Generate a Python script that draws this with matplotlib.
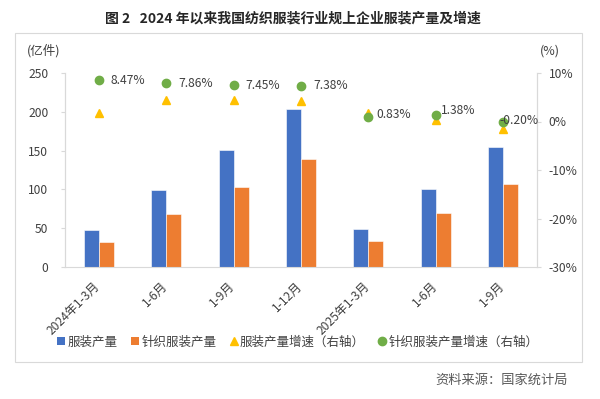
import matplotlib
matplotlib.use('Agg')
import matplotlib.pyplot as plt
import matplotlib.transforms as mtransforms
from matplotlib.patches import Rectangle
from matplotlib.lines import Line2D
from matplotlib.patches import Patch
import numpy as np

plt.rcParams['font.family'] = ['Noto Sans CJK SC', 'DejaVu Sans']
plt.rcParams['axes.unicode_minus'] = False

# data
categories = ['2024年1-3月', '1-6月', '1-9月', '1-12月', '2025年1-3月', '1-6月', '1-9月']
garment_output = [47.7, 98.8, 150.4, 204.2, 48.6, 100.5, 154.2]      # 亿件
knit_output = [32.6, 67.9, 103.0, 138.8, 33.5, 69.6, 106.5]         # 亿件
garment_growth = [1.8, 4.4, 4.4, 4.2, 1.8, 0.3, -1.5]               # %
knit_growth = [8.47, 7.86, 7.45, 7.38, 0.83, 1.38, -0.20]           # %
knit_labels = ['8.47%', '7.86%', '7.45%', '7.38%', '0.83%', '1.38%', '-0.20%']

BLUE = '#4472C4'
ORANGE = '#ED7D31'
YELLOW = '#FFC000'
GREEN = '#70AD47'
TXT = '#404040'
SPINE = '#D9D9D9'

fig = plt.figure(figsize=(6, 3.99), dpi=100)
ax = fig.add_axes([65 / 600, 1 - 267 / 399, 472 / 600, 194 / 399])
ax2 = ax.twinx()

x = np.arange(len(categories))
w = 0.222
ax.bar(x - w / 2, garment_output, w, color=BLUE, edgecolor='white', linewidth=0.4, label='服装产量')
ax.bar(x + w / 2, knit_output, w, color=ORANGE, edgecolor='white', linewidth=0.4, label='针织服装产量')

ax2.plot(x, garment_growth, linestyle='none', marker='^', ms=6.3, color=YELLOW, label='服装产量增速（右轴）')
ax2.plot(x, knit_growth, linestyle='none', marker='o', ms=6, color=GREEN, label='针织服装产量增速（右轴）')

# data labels for knit growth (pixel offsets)
label_offsets = [(12, 0), (12, 0), (12, 0), (12, 0), (8, 3), (5, 4), (-4, 2)]
for xi, yi, s, off in zip(x, knit_growth, knit_labels, label_offsets):
    ax2.annotate(s, (xi, yi), xytext=off, textcoords='offset pixels',
                 ha='left', va='center', fontsize=8.7, color=TXT)

ax.set_xlim(-0.5, len(categories) - 0.5)
ax.set_ylim(0, 250)
ax.set_yticks([0, 50, 100, 150, 200, 250])
ax2.set_ylim(-30, 10)
ax2.set_yticks([-30, -20, -10, 0, 10])
ax2.set_yticklabels(['-30%', '-20%', '-10%', '0%', '10%'])

for a in (ax, ax2):
    for sp in a.spines.values():
        sp.set_color(SPINE)
        sp.set_linewidth(0.8)
    a.spines['top'].set_visible(False)
ax2.spines['bottom'].set_visible(False)

ax.tick_params(axis='y', length=3, color=SPINE, pad=9, labelsize=8.7, labelcolor=TXT)
ax2.tick_params(axis='y', length=3, color=SPINE, pad=5.5, labelsize=8.7, labelcolor=TXT)
ax.tick_params(axis='x', length=0, pad=9, labelsize=8.7, labelcolor=TXT)

ax.set_xticks(x)
ax.set_xticklabels(categories, rotation=45, ha='right', va='top')
shift = mtransforms.ScaledTranslation(4 / 100, 0, fig.dpi_scale_trans)
for lbl in ax.get_xticklabels():
    lbl.set_transform(lbl.get_transform() + shift)

# axis unit labels
fig.text(27 / 600, 1 - 51 / 399, '(亿件)', ha='left', va='center', fontsize=9, color=TXT)
fig.text(540 / 600, 1 - 51 / 399, '(%)', ha='left', va='center', fontsize=9, color=TXT)

# legend
handles = [
    Patch(facecolor=BLUE, label='服装产量'),
    Patch(facecolor=ORANGE, label='针织服装产量'),
    Line2D([], [], linestyle='none', marker='^', ms=6, color=YELLOW, label='服装产量增速（右轴）'),
    Line2D([], [], linestyle='none', marker='o', ms=6, color=GREEN, label='针织服装产量增速（右轴）'),
]
fig.legend(handles=handles, loc='center', bbox_to_anchor=(298 / 600, 1 - 342 / 399), ncol=4,
           frameon=False, fontsize=9, handlelength=0.6, handleheight=0.6, handletextpad=0.2,
           columnspacing=1.1, labelcolor=TXT)

# chart border
fig.add_artist(Rectangle((15 / 600, 1 - 362 / 399), 567 / 600, 329 / 399,
                         transform=fig.transFigure, fill=False, edgecolor='#D9D9D9', linewidth=0.8))

# title and source
fig.text(293 / 600, 1 - 18 / 399, '图 2   2024 年以来我国纺织服装行业规上企业服装产量及增速',
         ha='center', va='center', fontsize=10, fontweight='bold', color='#262626')
fig.text(568 / 600, 1 - 380 / 399, '资料来源：国家统计局', ha='right', va='center',
         fontsize=9.5, color='#595959')

fig.savefig('out.png', dpi=100)
